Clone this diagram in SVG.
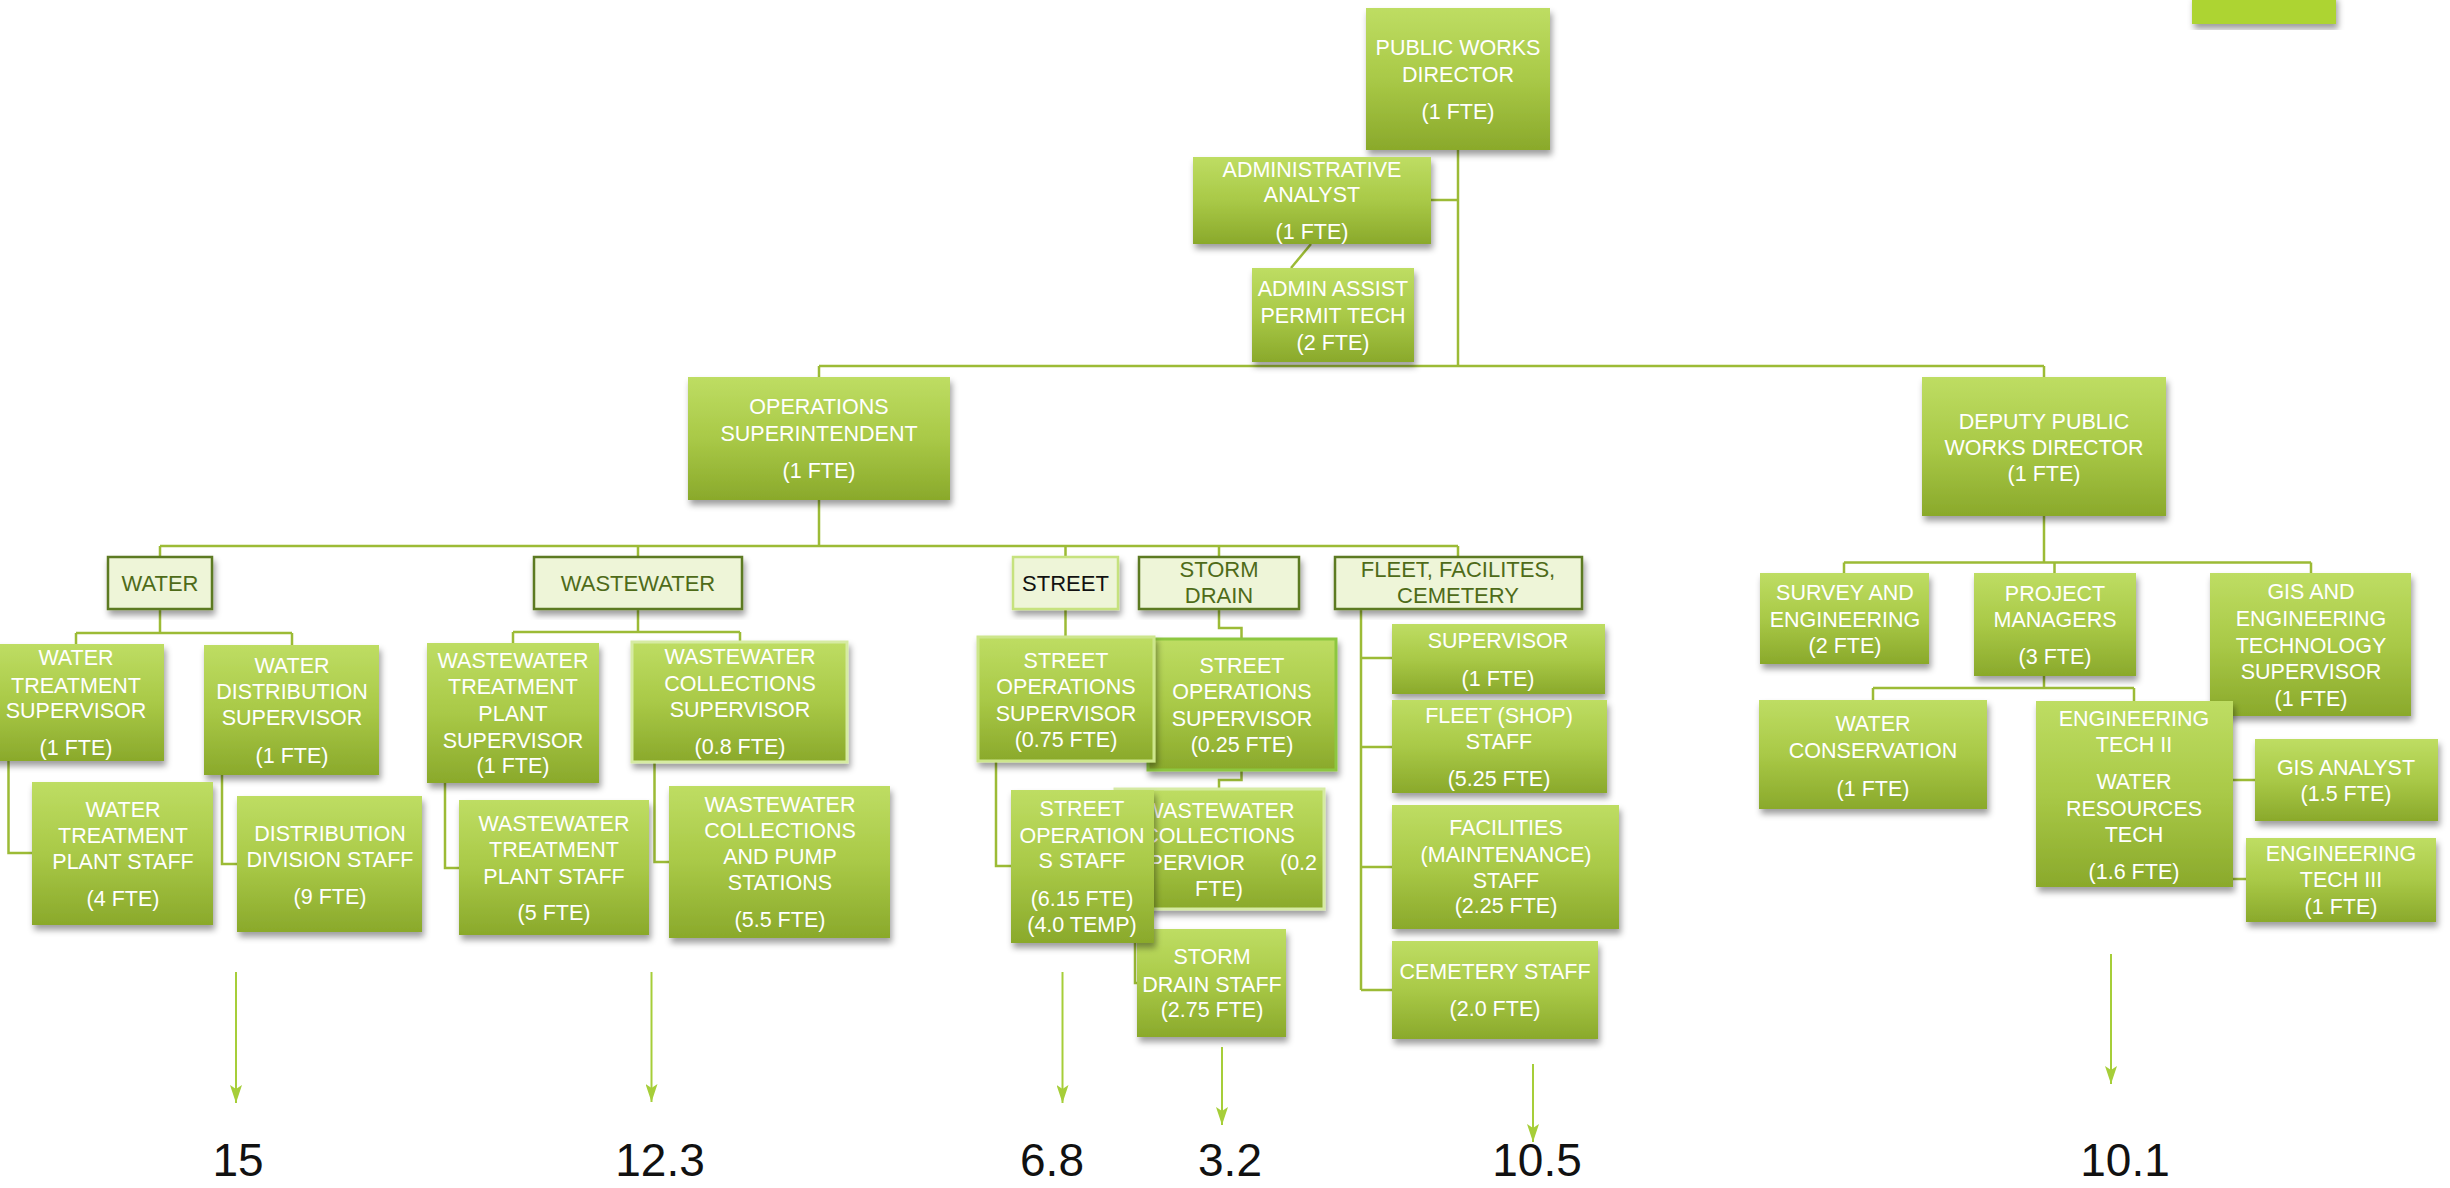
<svg xmlns="http://www.w3.org/2000/svg" width="2450" height="1188" viewBox="0 0 2450 1188">
<defs>
<linearGradient id="g" x1="0" y1="0" x2="0" y2="1">
<stop offset="0" stop-color="#BEDD63"/>
<stop offset="0.5" stop-color="#A9C947"/>
<stop offset="1" stop-color="#8AA92B"/>
</linearGradient>
<filter id="sh" x="-10%" y="-10%" width="125%" height="130%">
<feDropShadow dx="2" dy="5" stdDeviation="3" flood-color="#000" flood-opacity="0.38"/>
</filter>
<marker id="ah" viewBox="0 0 18 12" refX="18" refY="6" markerWidth="18" markerHeight="12" markerUnits="userSpaceOnUse" orient="auto">
<path d="M0 0 L18 6 L0 12 L4 6 Z" fill="#A6CE39"/>
</marker>
<style>
rect.b{fill:url(#g);filter:url(#sh)}
rect.h{fill:#EEF5D8;stroke:#5B7A20;stroke-width:2.5;filter:url(#sh)}
text{font-family:"Liberation Sans",Arial,sans-serif;font-size:21.5px;text-anchor:middle;fill:#fff}
text.hd{fill:#4E6B19;font-size:22px}
text.num{fill:#111;font-size:46px}
#connectors path{fill:none;stroke:#9CBB36;stroke-width:2.5}
#arrows path{fill:none;stroke:#A6CE39;stroke-width:2;marker-end:url(#ah)}
</style>
</defs>
<rect width="2450" height="1188" fill="#fff"/>
<rect x="2192" y="-5" width="144" height="29" fill="#ADD433" filter="url(#sh)"/>

<g id="connectors">
<path d="M1458 150 V366"/>
<path d="M1431 200 H1458"/>
<path d="M1311 244 L1291 268"/>
<path d="M819 366 H2044 M819 366 V377 M2044 366 V377"/>
<path d="M819 500 V546 M160 546 H1458 M160 546 V557 M638 546 V557 M1065.5 546 V557 M1219 546 V557 M1458 546 V557"/>
<path d="M160 609 V633 M76 633 H292 M76 633 V644 M292 633 V645"/>
<path d="M638 609 V632 M513 632 H740 M513 632 V643 M740 632 V642"/>
<path d="M1065.5 609 V637"/>
<path d="M1219 609 V628 H1241.5 V639"/>
<path d="M1361 609 V990 M1361 658 H1392 M1361 747 H1392 M1361 867 H1392 M1361 990 H1392"/>
<path d="M8.5 761 V853 H32"/>
<path d="M222 775 V864 H237"/>
<path d="M445 783 V868 H459"/>
<path d="M654.5 762 V862 H669"/>
<path d="M996 761 V866 H1011"/>
<path d="M1241.5 770 V780 H1219 V789"/>
<path d="M1135 943 V983 H1137"/>
<path d="M2044 516 V562.5 M1844 562.5 H2311 M1844 562.5 V573 M2311 562.5 V573 M2054.5 562.5 V573"/>
<path d="M2044 676 V688 M1873 688 H2134 M1873 688 V700 M2134 688 V701"/>
<path d="M2233 780 H2255 M2233 879 H2246"/>
</g>

<g id="arrows">
<path d="M236 972 V1103"/>
<path d="M651.5 972 V1102"/>
<path d="M1062.5 972 V1103"/>
<path d="M1222 1047 V1125"/>
<path d="M1533 1064 V1142"/>
<path d="M2111 954 V1084"/>
</g>

<g id="n-director"><rect class="b" x="1366" y="8" width="184" height="142"/>
<text x="1458" y="55">PUBLIC WORKS</text><text x="1458" y="82">DIRECTOR</text><text x="1458" y="119">(1 FTE)</text></g>

<g id="n-admin-analyst"><rect class="b" x="1193" y="157" width="238" height="87"/>
<text x="1312" y="177">ADMINISTRATIVE</text><text x="1312" y="202">ANALYST</text><text x="1312" y="239">(1 FTE)</text></g>

<g id="n-admin-assist"><rect class="b" x="1252" y="268" width="162" height="94"/>
<text x="1333" y="296">ADMIN ASSIST</text><text x="1333" y="323">PERMIT TECH</text><text x="1333" y="350">(2 FTE)</text></g>

<g id="n-ops"><rect class="b" x="688" y="377" width="262" height="123"/>
<text x="819" y="414">OPERATIONS</text><text x="819" y="441">SUPERINTENDENT</text><text x="819" y="478">(1 FTE)</text></g>

<g id="n-deputy"><rect class="b" x="1922" y="377" width="244" height="139"/>
<text x="2044" y="429">DEPUTY PUBLIC</text><text x="2044" y="455">WORKS DIRECTOR</text><text x="2044" y="481">(1 FTE)</text></g>

<g id="n-water"><rect class="h" x="108" y="557" width="104" height="52"/>
<text class="hd" x="160" y="591">WATER</text></g>

<g id="n-wastewater"><rect class="h" x="534" y="557" width="208" height="52"/>
<text class="hd" x="638" y="591">WASTEWATER</text></g>

<g id="n-street"><rect class="h" x="1013" y="557" width="105" height="52" style="stroke:#C6E27E"/>
<text class="hd" x="1065.5" y="591" style="fill:#111">STREET</text></g>

<g id="n-storm"><rect class="h" x="1139" y="557" width="160" height="52"/>
<text class="hd" x="1219" y="577">STORM</text><text class="hd" x="1219" y="603">DRAIN</text></g>

<g id="n-fleet"><rect class="h" x="1335" y="557" width="247" height="52"/>
<text class="hd" x="1458" y="577">FLEET, FACILITES,</text><text class="hd" x="1458" y="603">CEMETERY</text></g>

<g id="n-wts"><rect class="b" x="-12" y="644" width="176" height="117"/>
<text x="76" y="665">WATER</text><text x="76" y="693">TREATMENT</text><text x="76" y="718">SUPERVISOR</text><text x="76" y="755">(1 FTE)</text></g>

<g id="n-wds"><rect class="b" x="204" y="645" width="175" height="130"/>
<text x="292" y="673">WATER</text><text x="292" y="699">DISTRIBUTION</text><text x="292" y="725">SUPERVISOR</text><text x="292" y="763">(1 FTE)</text></g>

<g id="n-wwtps"><rect class="b" x="427" y="643" width="172" height="140"/>
<text x="513" y="668">WASTEWATER</text><text x="513" y="694">TREATMENT</text><text x="513" y="721">PLANT</text><text x="513" y="748">SUPERVISOR</text><text x="513" y="773">(1 FTE)</text></g>

<g id="n-wwcs"><rect class="b" x="632" y="642" width="215" height="120" style="stroke:#D6EBA3;stroke-width:3"/>
<text x="740" y="664">WASTEWATER</text><text x="740" y="691">COLLECTIONS</text><text x="740" y="717">SUPERVISOR</text><text x="740" y="754">(0.8 FTE)</text></g>

<g id="n-wtps"><rect class="b" x="32" y="782" width="181" height="143"/>
<text x="123" y="817">WATER</text><text x="123" y="843">TREATMENT</text><text x="123" y="869">PLANT STAFF</text><text x="123" y="906">(4 FTE)</text></g>

<g id="n-dds"><rect class="b" x="237" y="796" width="185" height="136"/>
<text x="330" y="841">DISTRIBUTION</text><text x="330" y="867">DIVISION STAFF</text><text x="330" y="904">(9 FTE)</text></g>

<g id="n-wwtpstaff"><rect class="b" x="459" y="800" width="190" height="135"/>
<text x="554" y="831">WASTEWATER</text><text x="554" y="857">TREATMENT</text><text x="554" y="884">PLANT STAFF</text><text x="554" y="920">(5 FTE)</text></g>

<g id="n-wwcps"><rect class="b" x="669" y="786" width="221" height="152"/>
<text x="780" y="812">WASTEWATER</text><text x="780" y="838">COLLECTIONS</text><text x="780" y="864">AND PUMP</text><text x="780" y="890">STATIONS</text><text x="780" y="927">(5.5 FTE)</text></g>

<g id="n-sos025"><rect class="b" x="1148" y="639" width="188" height="131" style="stroke:#8DC740;stroke-width:3"/>
<text x="1242" y="673">STREET</text><text x="1242" y="699">OPERATIONS</text><text x="1242" y="726">SUPERVISOR</text><text x="1242" y="752">(0.25 FTE)</text></g>

<g id="n-sos075"><rect class="b" x="978" y="637" width="176" height="124" style="stroke:#CDE68C;stroke-width:3"/>
<text x="1066" y="668">STREET</text><text x="1066" y="694">OPERATIONS</text><text x="1066" y="721">SUPERVISOR</text><text x="1066" y="747">(0.75 FTE)</text></g>

<g id="n-wwcs02"><rect class="b" x="1115" y="789" width="209" height="120" style="stroke:#D6EBA3;stroke-width:3"/>
<text x="1219" y="818">WASTEWATER</text><text x="1219" y="843">COLLECTIONS</text><text x="1245" y="870" style="text-anchor:end">SUPERVIOR</text><text x="1280" y="870" style="text-anchor:start">(0.2</text><text x="1219" y="896">FTE)</text></g>

<g id="n-sds"><rect class="b" x="1137" y="929" width="149" height="108"/>
<text x="1212" y="964">STORM</text><text x="1212" y="992">DRAIN STAFF</text><text x="1212" y="1017">(2.75 FTE)</text></g>

<g id="n-sostaff"><rect class="b" x="1011" y="790" width="143" height="153"/>
<text x="1082" y="816">STREET</text><text x="1082" y="843">OPERATION</text><text x="1082" y="868">S STAFF</text><text x="1082" y="906">(6.15 FTE)</text><text x="1082" y="932">(4.0 TEMP)</text></g>

<g id="n-fsup"><rect class="b" x="1392" y="624" width="213" height="70"/>
<text x="1498" y="648">SUPERVISOR</text><text x="1498" y="686">(1 FTE)</text></g>

<g id="n-fleetstaff"><rect class="b" x="1392" y="700" width="215" height="93"/>
<text x="1499" y="723">FLEET (SHOP)</text><text x="1499" y="749">STAFF</text><text x="1499" y="786">(5.25 FTE)</text></g>

<g id="n-facilities"><rect class="b" x="1392" y="805" width="227" height="124"/>
<text x="1506" y="835">FACILITIES</text><text x="1506" y="862">(MAINTENANCE)</text><text x="1506" y="888">STAFF</text><text x="1506" y="913">(2.25 FTE)</text></g>

<g id="n-cemetery"><rect class="b" x="1392" y="941" width="206" height="98"/>
<text x="1495" y="979">CEMETERY STAFF</text><text x="1495" y="1016">(2.0 FTE)</text></g>

<g id="n-survey"><rect class="b" x="1760" y="573" width="169" height="91"/>
<text x="1845" y="600">SURVEY AND</text><text x="1845" y="627">ENGINEERING</text><text x="1845" y="653">(2 FTE)</text></g>

<g id="n-pm"><rect class="b" x="1974" y="573" width="162" height="103"/>
<text x="2055" y="601">PROJECT</text><text x="2055" y="627">MANAGERS</text><text x="2055" y="664">(3 FTE)</text></g>

<g id="n-gis-sup"><rect class="b" x="2210" y="573" width="201" height="143"/>
<text x="2311" y="599">GIS  AND</text><text x="2311" y="626">ENGINEERING</text><text x="2311" y="653">TECHNOLOGY</text><text x="2311" y="679">SUPERVISOR</text><text x="2311" y="706">(1 FTE)</text></g>

<g id="n-wcons"><rect class="b" x="1759" y="700" width="228" height="109"/>
<text x="1873" y="731">WATER</text><text x="1873" y="758">CONSERVATION</text><text x="1873" y="796">(1 FTE)</text></g>

<g id="n-etech2"><rect class="b" x="2036" y="701" width="197" height="186"/>
<text x="2134" y="726">ENGINEERING</text><text x="2134" y="752">TECH II</text><text x="2134" y="789">WATER</text><text x="2134" y="816">RESOURCES</text><text x="2134" y="842">TECH</text><text x="2134" y="879">(1.6 FTE)</text></g>

<g id="n-gis-analyst"><rect class="b" x="2255" y="739" width="183" height="82"/>
<text x="2346" y="775">GIS ANALYST</text><text x="2346" y="801">(1.5 FTE)</text></g>

<g id="n-etech3"><rect class="b" x="2246" y="838" width="190" height="84"/>
<text x="2341" y="861">ENGINEERING</text><text x="2341" y="887">TECH III</text><text x="2341" y="914">(1 FTE)</text></g>

<g id="totals">
<text class="num" x="238" y="1176">15</text>
<text class="num" x="660" y="1176">12.3</text>
<text class="num" x="1052" y="1176">6.8</text>
<text class="num" x="1230" y="1176">3.2</text>
<text class="num" x="1537" y="1176">10.5</text>
<text class="num" x="2125" y="1176">10.1</text>
</g>
</svg>
